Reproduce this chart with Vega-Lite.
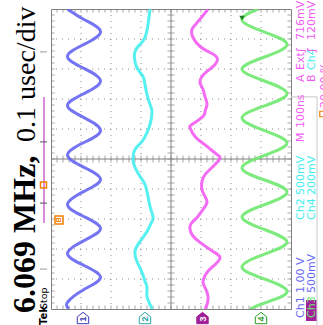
{
"$schema": "https://vega.github.io/schema/vega-lite/v6.json",
"width": 240, "height": 300,
"autosize": {"type": "none"},
"padding": {"left": 51, "top": 9, "right": 32, "bottom": 16},
"background": "white",
"config": {"view": {"stroke": "#808080", "strokeWidth": 1}},
"datasets": {
"traces": [
{"ch":"Ch1","t":500,"v":-3.45},{"ch":"Ch1","t":465,"v":-2.9},{"ch":"Ch1","t":425,"v":-2.35},{"ch":"Ch1","t":382,"v":-2.9},{"ch":"Ch1","t":342,"v":-3.45},{"ch":"Ch1","t":302,"v":-2.9},{"ch":"Ch1","t":260,"v":-2.35},{"ch":"Ch1","t":218,"v":-2.9},{"ch":"Ch1","t":178,"v":-3.45},{"ch":"Ch1","t":138,"v":-2.9},{"ch":"Ch1","t":95,"v":-2.35},{"ch":"Ch1","t":55,"v":-2.9},{"ch":"Ch1","t":13,"v":-3.45},{"ch":"Ch1","t":-28,"v":-2.9},{"ch":"Ch1","t":-68,"v":-2.35},{"ch":"Ch1","t":-108,"v":-2.9},{"ch":"Ch1","t":-152,"v":-3.45},{"ch":"Ch1","t":-192,"v":-2.9},{"ch":"Ch1","t":-232,"v":-2.35},{"ch":"Ch1","t":-272,"v":-2.9},{"ch":"Ch1","t":-315,"v":-3.45},{"ch":"Ch1","t":-355,"v":-2.9},{"ch":"Ch1","t":-395,"v":-2.35},{"ch":"Ch1","t":-435,"v":-2.9},{"ch":"Ch1","t":-478,"v":-3.45},{"ch":"Ch1","t":-500,"v":-3.4},
{"ch":"Ch2","t":500,"v":-0.7},{"ch":"Ch2","t":448,"v":-0.767},{"ch":"Ch2","t":405,"v":-0.867},{"ch":"Ch2","t":382,"v":-1.033},{"ch":"Ch2","t":358,"v":-1.2},{"ch":"Ch2","t":325,"v":-1.2},{"ch":"Ch2","t":298,"v":-1.1},{"ch":"Ch2","t":275,"v":-0.933},{"ch":"Ch2","t":248,"v":-0.867},{"ch":"Ch2","t":215,"v":-0.8},{"ch":"Ch2","t":182,"v":-0.7},{"ch":"Ch2","t":155,"v":-0.633},{"ch":"Ch2","t":115,"v":-0.7},{"ch":"Ch2","t":88,"v":-0.8},{"ch":"Ch2","t":58,"v":-0.967},{"ch":"Ch2","t":32,"v":-1.2},{"ch":"Ch2","t":-2,"v":-1.267},{"ch":"Ch2","t":-28,"v":-1.2},{"ch":"Ch2","t":-58,"v":-1.033},{"ch":"Ch2","t":-85,"v":-0.867},{"ch":"Ch2","t":-125,"v":-0.767},{"ch":"Ch2","t":-158,"v":-0.7},{"ch":"Ch2","t":-192,"v":-0.6},{"ch":"Ch2","t":-208,"v":-0.633},{"ch":"Ch2","t":-242,"v":-0.8},{"ch":"Ch2","t":-275,"v":-1.033},{"ch":"Ch2","t":-308,"v":-1.2},{"ch":"Ch2","t":-342,"v":-1.133},{"ch":"Ch2","t":-378,"v":-0.967},{"ch":"Ch2","t":-408,"v":-0.867},{"ch":"Ch2","t":-428,"v":-0.8},{"ch":"Ch2","t":-458,"v":-0.8},{"ch":"Ch2","t":-485,"v":-0.7},{"ch":"Ch2","t":-500,"v":-0.633},
{"ch":"Ch3","t":500,"v":1.233},{"ch":"Ch3","t":458,"v":0.9},{"ch":"Ch3","t":432,"v":0.7},{"ch":"Ch3","t":405,"v":0.733},{"ch":"Ch3","t":375,"v":0.967},{"ch":"Ch3","t":355,"v":1.3},{"ch":"Ch3","t":338,"v":1.533},{"ch":"Ch3","t":315,"v":1.467},{"ch":"Ch3","t":292,"v":1.2},{"ch":"Ch3","t":275,"v":1.033},{"ch":"Ch3","t":255,"v":0.967},{"ch":"Ch3","t":232,"v":1.067},{"ch":"Ch3","t":208,"v":1.133},{"ch":"Ch3","t":182,"v":1.2},{"ch":"Ch3","t":158,"v":1.133},{"ch":"Ch3","t":142,"v":1.067},{"ch":"Ch3","t":115,"v":0.7},{"ch":"Ch3","t":105,"v":0.633},{"ch":"Ch3","t":75,"v":0.8},{"ch":"Ch3","t":42,"v":1.2},{"ch":"Ch3","t":15,"v":1.533},{"ch":"Ch3","t":2,"v":1.633},{"ch":"Ch3","t":-25,"v":1.4},{"ch":"Ch3","t":-52,"v":1.133},{"ch":"Ch3","t":-75,"v":1.033},{"ch":"Ch3","t":-102,"v":1.033},{"ch":"Ch3","t":-125,"v":1.133},{"ch":"Ch3","t":-145,"v":1.2},{"ch":"Ch3","t":-168,"v":1.067},{"ch":"Ch3","t":-195,"v":0.867},{"ch":"Ch3","t":-208,"v":0.733},{"ch":"Ch3","t":-225,"v":0.633},{"ch":"Ch3","t":-252,"v":0.7},{"ch":"Ch3","t":-278,"v":0.967},{"ch":"Ch3","t":-308,"v":1.4},{"ch":"Ch3","t":-328,"v":1.633},{"ch":"Ch3","t":-352,"v":1.467},{"ch":"Ch3","t":-378,"v":1.2},{"ch":"Ch3","t":-408,"v":1.067},{"ch":"Ch3","t":-428,"v":1.133},{"ch":"Ch3","t":-458,"v":1.233},{"ch":"Ch3","t":-485,"v":1.2},{"ch":"Ch3","t":-500,"v":1.133},
{"ch":"Ch4","t":500,"v":2.9},{"ch":"Ch4","t":463,"v":2.367},{"ch":"Ch4","t":423,"v":3.117},{"ch":"Ch4","t":382,"v":3.867},{"ch":"Ch4","t":340,"v":3.117},{"ch":"Ch4","t":300,"v":2.367},{"ch":"Ch4","t":260,"v":3.117},{"ch":"Ch4","t":218,"v":3.867},{"ch":"Ch4","t":177,"v":3.117},{"ch":"Ch4","t":137,"v":2.367},{"ch":"Ch4","t":95,"v":3.117},{"ch":"Ch4","t":53,"v":3.867},{"ch":"Ch4","t":12,"v":3.117},{"ch":"Ch4","t":-30,"v":2.367},{"ch":"Ch4","t":-70,"v":3.117},{"ch":"Ch4","t":-110,"v":3.867},{"ch":"Ch4","t":-152,"v":3.117},{"ch":"Ch4","t":-193,"v":2.367},{"ch":"Ch4","t":-235,"v":3.117},{"ch":"Ch4","t":-277,"v":3.867},{"ch":"Ch4","t":-317,"v":3.117},{"ch":"Ch4","t":-360,"v":2.367},{"ch":"Ch4","t":-400,"v":3.117},{"ch":"Ch4","t":-443,"v":3.867},{"ch":"Ch4","t":-480,"v":3.117},{"ch":"Ch4","t":-500,"v":2.633}
],
"gv": [{"v":-3},{"v":-2},{"v":-1},{"v":1},{"v":2},{"v":3}],
"gt": [{"t":-400},{"t":-300},{"t":-200},{"t":-100},{"t":100},{"t":200},{"t":300},{"t":400}],
"vt": [{"v":-3.8},{"v":-3.6},{"v":-3.4},{"v":-3.2},{"v":-3},{"v":-2.8},{"v":-2.6},{"v":-2.4},{"v":-2.2},{"v":-2},{"v":-1.8},{"v":-1.6},{"v":-1.4},{"v":-1.2},{"v":-1},{"v":-0.8},{"v":-0.6},{"v":-0.4},{"v":-0.2},{"v":0},{"v":0.2},{"v":0.4},{"v":0.6},{"v":0.8},{"v":1},{"v":1.2},{"v":1.4},{"v":1.6},{"v":1.8},{"v":2},{"v":2.2},{"v":2.4},{"v":2.6},{"v":2.8},{"v":3},{"v":3.2},{"v":3.4},{"v":3.6},{"v":3.8}],
"tt": [{"t":-480},{"t":-460},{"t":-440},{"t":-420},{"t":-400},{"t":-380},{"t":-360},{"t":-340},{"t":-320},{"t":-300},{"t":-280},{"t":-260},{"t":-240},{"t":-220},{"t":-200},{"t":-180},{"t":-160},{"t":-140},{"t":-120},{"t":-100},{"t":-80},{"t":-60},{"t":-40},{"t":-20},{"t":0},{"t":20},{"t":40},{"t":60},{"t":80},{"t":100},{"t":120},{"t":140},{"t":160},{"t":180},{"t":200},{"t":220},{"t":240},{"t":260},{"t":280},{"t":300},{"t":320},{"t":340},{"t":360},{"t":380},{"t":400},{"t":420},{"t":440},{"t":460},{"t":480}]
},
"layer": [
{"data":{"name":"gv"},"mark":{"type":"rule","color":"#8a8a8a","strokeDash":[1,5],"strokeWidth":1},
 "encoding":{"x":{"field":"v","type":"quantitative","scale":{"domain":[-4,4],"nice":false,"zero":false},"axis":null}}},
{"data":{"name":"gt"},"mark":{"type":"rule","color":"#8a8a8a","strokeDash":[1,5],"strokeWidth":1},
 "encoding":{"y":{"field":"t","type":"quantitative","scale":{"domain":[-500,500],"nice":false,"zero":false},"axis":null}}},
{"data":{"values":[{}]},"mark":{"type":"rule","color":"#808080","strokeWidth":1},
 "encoding":{"x":{"datum":0,"type":"quantitative","scale":{"domain":[-4,4],"nice":false,"zero":false},"axis":null}}},
{"data":{"values":[{}]},"mark":{"type":"rule","color":"#808080","strokeWidth":1},
 "encoding":{"y":{"datum":0,"type":"quantitative","scale":{"domain":[-500,500],"nice":false,"zero":false},"axis":null}}},
{"data":{"name":"vt"},"mark":{"type":"tick","orient":"vertical","size":7,"thickness":1,"color":"#808080","clip":true},
 "encoding":{"x":{"field":"v","type":"quantitative","scale":{"domain":[-4,4],"nice":false,"zero":false},"axis":null},"y":{"datum":0,"type":"quantitative","scale":{"domain":[-500,500],"nice":false,"zero":false},"axis":null}}},
{"data":{"name":"vt"},"mark":{"type":"tick","orient":"vertical","size":7,"thickness":1,"color":"#808080","clip":true},
 "encoding":{"x":{"field":"v","type":"quantitative","scale":{"domain":[-4,4],"nice":false,"zero":false},"axis":null},"y":{"datum":500,"type":"quantitative","scale":{"domain":[-500,500],"nice":false,"zero":false},"axis":null}}},
{"data":{"name":"vt"},"mark":{"type":"tick","orient":"vertical","size":7,"thickness":1,"color":"#808080","clip":true},
 "encoding":{"x":{"field":"v","type":"quantitative","scale":{"domain":[-4,4],"nice":false,"zero":false},"axis":null},"y":{"datum":-500,"type":"quantitative","scale":{"domain":[-500,500],"nice":false,"zero":false},"axis":null}}},
{"data":{"name":"tt"},"mark":{"type":"tick","orient":"horizontal","size":7,"thickness":1,"color":"#808080","clip":true},
 "encoding":{"y":{"field":"t","type":"quantitative","scale":{"domain":[-500,500],"nice":false,"zero":false},"axis":null},"x":{"datum":0,"type":"quantitative","scale":{"domain":[-4,4],"nice":false,"zero":false},"axis":null}}},
{"data":{"name":"tt"},"mark":{"type":"tick","orient":"horizontal","size":7,"thickness":1,"color":"#808080","clip":true},
 "encoding":{"y":{"field":"t","type":"quantitative","scale":{"domain":[-500,500],"nice":false,"zero":false},"axis":null},"x":{"datum":-4,"type":"quantitative","scale":{"domain":[-4,4],"nice":false,"zero":false},"axis":null}}},
{"data":{"name":"tt"},"mark":{"type":"tick","orient":"horizontal","size":7,"thickness":1,"color":"#808080","clip":true},
 "encoding":{"y":{"field":"t","type":"quantitative","scale":{"domain":[-500,500],"nice":false,"zero":false},"axis":null},"x":{"datum":4,"type":"quantitative","scale":{"domain":[-4,4],"nice":false,"zero":false},"axis":null}}},
{"data":{"name":"traces"},"mark":{"type":"line","strokeWidth":3,"interpolate":"natural","opacity":0.9,"clip":true},
 "encoding":{"x":{"field":"v","type":"quantitative","scale":{"domain":[-4,4],"nice":false,"zero":false},"axis":null},
  "y":{"field":"t","type":"quantitative","scale":{"domain":[-500,500],"nice":false,"zero":false},"axis":null},
  "color":{"field":"ch","type":"nominal","scale":{"domain":["Ch1","Ch2","Ch3","Ch4"],"range":["#6666f2","#44eeee","#f25cf2","#6ee86e"]},"legend":null},
  "order":{"field":"t","type":"quantitative"}}},
{"data":{"values":[{}]},"mark":{"type":"point","shape":"triangle-down","size":30,"filled":true,"color":"#1f7a1f","opacity":1},
 "encoding":{"x":{"datum":2.367,"type":"quantitative","scale":{"domain":[-4,4],"nice":false,"zero":false},"axis":null},"y":{"datum":470,"type":"quantitative","scale":{"domain":[-500,500],"nice":false,"zero":false},"axis":null}}},
{"data":{"values":[{}]},"mark":{"type":"text","angle":270,"align":"left","baseline":"alphabetic","font":"Liberation Serif","fontSize":32,"fontWeight":"bold","color":"black"},
 "encoding":{"x":{"datum":-4.533,"type":"quantitative","scale":{"domain":[-4,4],"nice":false,"zero":false},"axis":null},"y":{"datum":-513,"type":"quantitative","scale":{"domain":[-500,500],"nice":false,"zero":false},"axis":null},"text":{"value":"6.069 MHz,"}}},
{"data":{"values":[{}]},"mark":{"type":"text","angle":270,"align":"left","baseline":"alphabetic","font":"Liberation Serif","fontSize":28,"color":"black"},
 "encoding":{"x":{"datum":-4.533,"type":"quantitative","scale":{"domain":[-4,4],"nice":false,"zero":false},"axis":null},"y":{"datum":57,"type":"quantitative","scale":{"domain":[-500,500],"nice":false,"zero":false},"axis":null},"text":{"value":"0.1 usec/div"}}},
{"data":{"values":[{}]},"mark":{"type":"text","angle":270,"align":"left","baseline":"alphabetic","font":"DejaVu Sans","fontSize":10,"fontWeight":"bold","color":"black"},
 "encoding":{"x":{"datum":-4.133,"type":"quantitative","scale":{"domain":[-4,4],"nice":false,"zero":false},"axis":null},"y":{"datum":-553,"type":"quantitative","scale":{"domain":[-500,500],"nice":false,"zero":false},"axis":null},"text":{"value":"Tek"}}},
{"data":{"values":[{}]},"mark":{"type":"text","angle":270,"align":"left","baseline":"alphabetic","font":"DejaVu Sans","fontSize":9.5,"color":"black"},
 "encoding":{"x":{"datum":-4.133,"type":"quantitative","scale":{"domain":[-4,4],"nice":false,"zero":false},"axis":null},"y":{"datum":-500,"type":"quantitative","scale":{"domain":[-500,500],"nice":false,"zero":false},"axis":null},"text":{"value":"Stop"}}},
{"data":{"values":[{}]},"mark":{"type":"rule","color":"#cc66cc","strokeWidth":1.5},
 "encoding":{"x":{"datum":-4.233,"type":"quantitative","scale":{"domain":[-4,4],"nice":false,"zero":false},"axis":null},"y":{"datum":207,"type":"quantitative","scale":{"domain":[-500,500],"nice":false,"zero":false},"axis":null},"y2":{"datum":-213}}},
{"data":{"values":[{}]},"mark":{"type":"rule","color":"#555555","strokeWidth":1},
 "encoding":{"x":{"datum":-4.367,"type":"quantitative","scale":{"domain":[-4,4],"nice":false,"zero":false},"axis":null},"x2":{"datum":-4.133},"y":{"datum":57,"type":"quantitative","scale":{"domain":[-500,500],"nice":false,"zero":false},"axis":null}}},
{"data":{"values":[{}]},"mark":{"type":"rule","color":"#555555","strokeWidth":1},
 "encoding":{"x":{"datum":-4.367,"type":"quantitative","scale":{"domain":[-4,4],"nice":false,"zero":false},"axis":null},"x2":{"datum":-4.133},"y":{"datum":-147,"type":"quantitative","scale":{"domain":[-500,500],"nice":false,"zero":false},"axis":null}}},
{"data":{"values":[{}]},"mark":{"type":"rule","color":"#999999","strokeWidth":1},
 "encoding":{"x":{"datum":-4.367,"type":"quantitative","scale":{"domain":[-4,4],"nice":false,"zero":false},"axis":null},"x2":{"datum":-4.133},"y":{"datum":357,"type":"quantitative","scale":{"domain":[-500,500],"nice":false,"zero":false},"axis":null}}},
{"data":{"values":[{}]},"mark":{"type":"rule","color":"#999999","strokeWidth":1},
 "encoding":{"x":{"datum":-4.367,"type":"quantitative","scale":{"domain":[-4,4],"nice":false,"zero":false},"axis":null},"x2":{"datum":-4.133},"y":{"datum":-367,"type":"quantitative","scale":{"domain":[-500,500],"nice":false,"zero":false},"axis":null}}},
{"data":{"values":[{}]},"mark":{"type":"point","shape":"square","size":36,"filled":false,"color":"#f08000","strokeWidth":1.5,"opacity":1},
 "encoding":{"x":{"datum":-4.25,"type":"quantitative","scale":{"domain":[-4,4],"nice":false,"zero":false},"axis":null},"y":{"datum":-87,"type":"quantitative","scale":{"domain":[-500,500],"nice":false,"zero":false},"axis":null}}},
{"data":{"values":[{}]},"mark":{"type":"point","shape":"square","size":64,"filled":false,"color":"#f08000","strokeWidth":1.5,"opacity":1},
 "encoding":{"x":{"datum":-3.733,"type":"quantitative","scale":{"domain":[-4,4],"nice":false,"zero":false},"axis":null},"y":{"datum":-203,"type":"quantitative","scale":{"domain":[-500,500],"nice":false,"zero":false},"axis":null}}},
{"data":{"values":[{}]},"mark":{"type":"text","angle":270,"align":"center","baseline":"middle","font":"Liberation Sans","fontSize":7,"fontWeight":"bold","color":"#f08000"},
 "encoding":{"x":{"datum":-3.733,"type":"quantitative","scale":{"domain":[-4,4],"nice":false,"zero":false},"axis":null},"y":{"datum":-203,"type":"quantitative","scale":{"domain":[-500,500],"nice":false,"zero":false},"axis":null},"text":{"value":"B"}}},
{"data":{"values":[{}]},"mark":{"type":"point","shape":"M-1,1L-1,-0.2L0,-1L1,-0.2L1,1Z","size":130,"filled":true,"fill":"white","stroke":"#3a3ab8","strokeWidth":1,"opacity":1},
 "encoding":{"x":{"datum":-2.933,"type":"quantitative","scale":{"domain":[-4,4],"nice":false,"zero":false},"axis":null},"y":{"datum":-530,"type":"quantitative","scale":{"domain":[-500,500],"nice":false,"zero":false},"axis":null}}},
{"data":{"values":[{}]},"mark":{"type":"point","shape":"M-1,1L-1,-0.2L0,-1L1,-0.2L1,1Z","size":130,"filled":true,"fill":"white","stroke":"#2aa6a6","strokeWidth":1,"opacity":1},
 "encoding":{"x":{"datum":-0.867,"type":"quantitative","scale":{"domain":[-4,4],"nice":false,"zero":false},"axis":null},"y":{"datum":-530,"type":"quantitative","scale":{"domain":[-500,500],"nice":false,"zero":false},"axis":null}}},
{"data":{"values":[{}]},"mark":{"type":"point","shape":"M-1,1L-1,-0.2L0,-1L1,-0.2L1,1Z","size":130,"filled":true,"fill":"#a0209a","stroke":"#a0209a","strokeWidth":1,"opacity":1},
 "encoding":{"x":{"datum":1.05,"type":"quantitative","scale":{"domain":[-4,4],"nice":false,"zero":false},"axis":null},"y":{"datum":-530,"type":"quantitative","scale":{"domain":[-500,500],"nice":false,"zero":false},"axis":null}}},
{"data":{"values":[{}]},"mark":{"type":"point","shape":"M-1,1L-1,-0.2L0,-1L1,-0.2L1,1Z","size":130,"filled":true,"fill":"white","stroke":"#2a9a2a","strokeWidth":1,"opacity":1},
 "encoding":{"x":{"datum":3.0,"type":"quantitative","scale":{"domain":[-4,4],"nice":false,"zero":false},"axis":null},"y":{"datum":-530,"type":"quantitative","scale":{"domain":[-500,500],"nice":false,"zero":false},"axis":null}}},
{"data":{"values":[{}]},"mark":{"type":"text","angle":270,"align":"center","baseline":"middle","font":"Liberation Sans","fontSize":9,"fontWeight":"bold","color":"#3a3ab8"},
 "encoding":{"x":{"datum":-2.933,"type":"quantitative","scale":{"domain":[-4,4],"nice":false,"zero":false},"axis":null},"y":{"datum":-533,"type":"quantitative","scale":{"domain":[-500,500],"nice":false,"zero":false},"axis":null},"text":{"value":"1"}}},
{"data":{"values":[{}]},"mark":{"type":"text","angle":270,"align":"center","baseline":"middle","font":"Liberation Sans","fontSize":9,"fontWeight":"bold","color":"#2aa6a6"},
 "encoding":{"x":{"datum":-0.867,"type":"quantitative","scale":{"domain":[-4,4],"nice":false,"zero":false},"axis":null},"y":{"datum":-533,"type":"quantitative","scale":{"domain":[-500,500],"nice":false,"zero":false},"axis":null},"text":{"value":"2"}}},
{"data":{"values":[{}]},"mark":{"type":"text","angle":270,"align":"center","baseline":"middle","font":"Liberation Sans","fontSize":9,"fontWeight":"bold","color":"white"},
 "encoding":{"x":{"datum":1.05,"type":"quantitative","scale":{"domain":[-4,4],"nice":false,"zero":false},"axis":null},"y":{"datum":-533,"type":"quantitative","scale":{"domain":[-500,500],"nice":false,"zero":false},"axis":null},"text":{"value":"3"}}},
{"data":{"values":[{}]},"mark":{"type":"text","angle":270,"align":"center","baseline":"middle","font":"Liberation Sans","fontSize":9,"fontWeight":"bold","color":"#2a9a2a"},
 "encoding":{"x":{"datum":3.0,"type":"quantitative","scale":{"domain":[-4,4],"nice":false,"zero":false},"axis":null},"y":{"datum":-533,"type":"quantitative","scale":{"domain":[-500,500],"nice":false,"zero":false},"axis":null},"text":{"value":"4"}}},
{"data":{"values":[{}]},"mark":{"type":"rule","color":"#c8c8c8","strokeWidth":1},
 "encoding":{"x":{"datum":4.867,"type":"quantitative","scale":{"domain":[-4,4],"nice":false,"zero":false},"axis":null},"y":{"datum":207,"type":"quantitative","scale":{"domain":[-500,500],"nice":false,"zero":false},"axis":null},"y2":{"datum":-553}}},
{"data":{"values":[{}]},"mark":{"type":"rule","color":"#c8c8c8","strokeWidth":1},
 "encoding":{"x":{"datum":4,"type":"quantitative","scale":{"domain":[-4,4],"nice":false,"zero":false},"axis":null},"x2":{"datum":4.867},"y":{"datum":207,"type":"quantitative","scale":{"domain":[-500,500],"nice":false,"zero":false},"axis":null}}},
{"data":{"values":[{}]},"mark":{"type":"rect","color":"#a0209a"},
 "encoding":{"x":{"datum":4.5,"type":"quantitative","scale":{"domain":[-4,4],"nice":false,"zero":false},"axis":null},"x2":{"datum":4.85},"y":{"datum":-540,"type":"quantitative","scale":{"domain":[-500,500],"nice":false,"zero":false},"axis":null},"y2":{"datum":-470}}},
{"data":{"values":[{"s":"Ch1","v":4.433,"t":-530,"c":"a"},{"s":"1.00 V","v":4.433,"t":-447,"c":"a"},{"s":"Ch2","v":4.433,"t":-203,"c":"b"},{"s":"500mV","v":4.433,"t":-120,"c":"b"},{"s":"M","v":4.433,"t":57,"c":"k"},{"s":"100ns","v":4.433,"t":103,"c":"k"},{"s":"A","v":4.433,"t":257,"c":"k"},{"s":"Ext","v":4.433,"t":297,"c":"k"},{"s":"∫","v":4.433,"t":353,"c":"k"},{"s":"716mV","v":4.433,"t":397,"c":"k"},
{"s":"Ch3","v":4.8,"t":-530,"c":"w"},{"s":"500mV","v":4.8,"t":-447,"c":"m"},{"s":"Ch4","v":4.8,"t":-203,"c":"g"},{"s":"200mV","v":4.8,"t":-120,"c":"g"},{"s":"B","v":4.8,"t":257,"c":"k"},{"s":"Ch4","v":4.8,"t":297,"c":"g"},{"s":"∫","v":4.8,"t":353,"c":"k"},{"s":"120mV","v":4.8,"t":397,"c":"k"},{"s":"20.00 %","v":5.233,"t":170,"c":"k"}]},
 "mark":{"type":"text","angle":270,"align":"left","baseline":"alphabetic","font":"DejaVu Sans","fontSize":11},
 "encoding":{"x":{"field":"v","type":"quantitative","scale":{"domain":[-4,4],"nice":false,"zero":false},"axis":null},"y":{"field":"t","type":"quantitative","scale":{"domain":[-500,500],"nice":false,"zero":false},"axis":null},"text":{"field":"s"},
  "color":{"field":"c","type":"nominal","scale":{"domain":["a","b","k","w","m","g"],"range":["#2b2bb0","#22a0a0","#111111","#ffffff","#b822b8","#1f9a1f"]},"legend":null}}},
{"data":{"values":[{}]},"mark":{"type":"point","shape":"square","size":30,"filled":false,"color":"#f08000","strokeWidth":1.2,"opacity":1},
 "encoding":{"x":{"datum":5.05,"type":"quantitative","scale":{"domain":[-4,4],"nice":false,"zero":false},"axis":null},"y":{"datum":150,"type":"quantitative","scale":{"domain":[-500,500],"nice":false,"zero":false},"axis":null}}}
]
}
